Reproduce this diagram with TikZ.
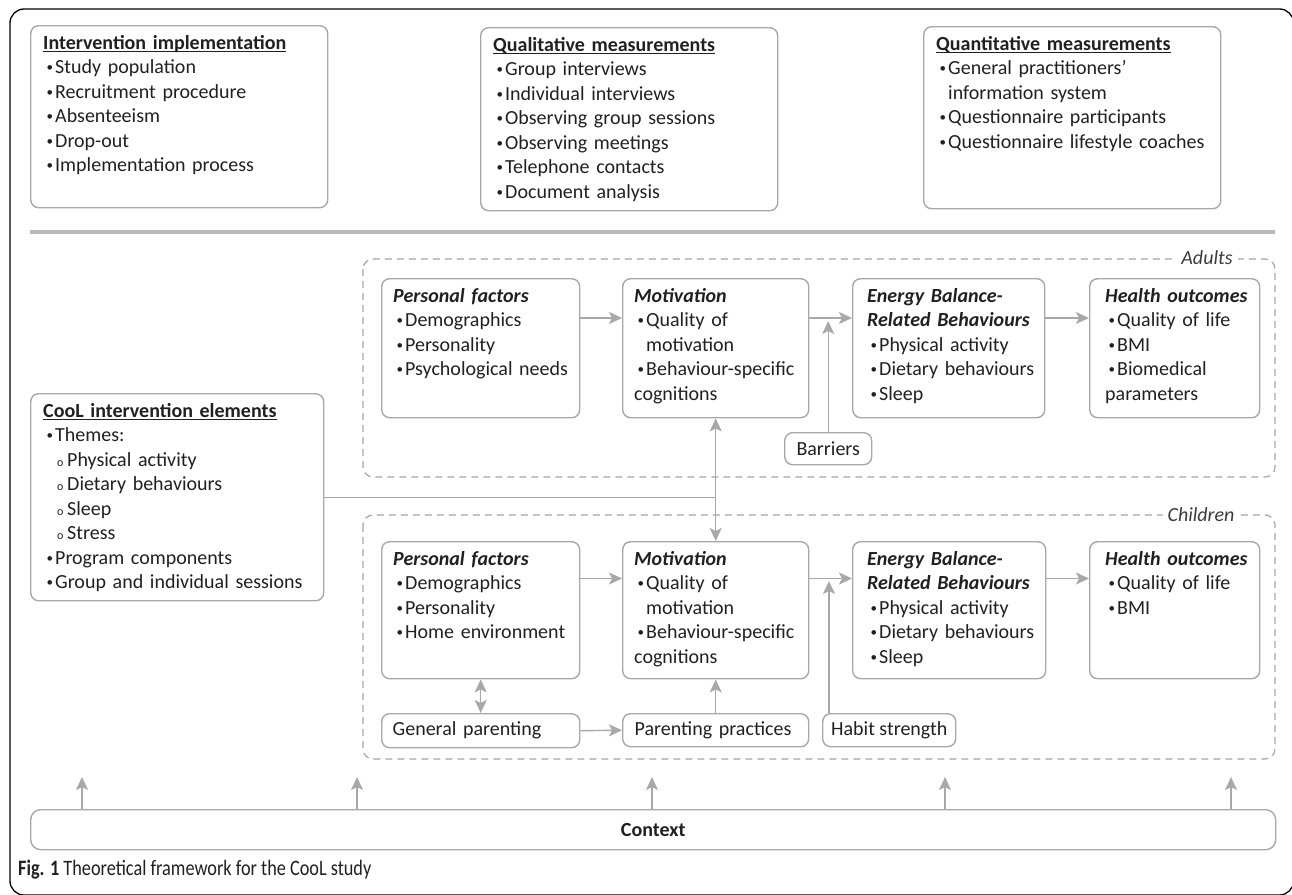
\documentclass[tikz,border=0pt]{standalone}
\usepackage{fontspec}
\setmainfont{Carlito}
\usetikzlibrary{arrows.meta}
\definecolor{txt}{RGB}{35,31,32}
\definecolor{bgray}{RGB}{168,168,168}
\definecolor{agray}{RGB}{168,168,168}
\definecolor{dgray}{RGB}{165,165,165}
\definecolor{sepgray}{RGB}{185,185,185}
\definecolor{lbl}{RGB}{60,60,60}
\newcommand\bul{\makebox[12pt][l]{\hspace{3.5pt}\raisebox{2.2pt}{\fontsize{13}{13}\selectfont\textbullet}}}
\newcommand\itm[1]{\par\hangindent=12pt\hangafter=1\noindent\bul#1}
\newcommand\sitm[1]{\par\noindent\hspace{14pt}\makebox[10pt][l]{\fontsize{12}{12}\selectfont o}#1}
\newcommand\ttl[1]{\noindent\strut\setbox0\hbox{\textbf{#1}}\rlap{\rule[-2.6pt]{\wd0}{1.2pt}}\box0}
\newcommand\hd[1]{\noindent\strut\textbf{\textit{#1}}}
\newcommand\mybox[7]{%
  \node[box, minimum width=#4pt, minimum height=#5pt] (#1) at (#2,#3) {};
  \node[txt] (#1-t) at ([xshift=#6pt,yshift=-7pt]#1.north west) {#7};}
\tikzset{
  box/.style={draw=bgray, line width=1.4pt, rounded corners=8pt, anchor=north west, inner sep=0pt},
  txt/.style={font=\fontsize{20}{24.5}\selectfont, text=txt, inner sep=0pt, anchor=north west, align=left, text width=300pt},
  small/.style={box, font=\fontsize{20}{24.5}\selectfont, text=txt},
  dbox/.style={draw=dgray, line width=1.2pt, dash pattern=on 7pt off 5pt, rounded corners=10pt},
  lab/.style={fill=white, inner xsep=5pt, inner ysep=1pt, font=\fontsize{20}{24}\selectfont\itshape, text=lbl},
  arr/.style={draw=agray, line width=1.4pt, ->},
  ln/.style={draw=agray, line width=1.4pt}
}
\begin{document}
\begin{tikzpicture}[x=1pt, y=-1pt, >={Stealth[length=13pt,width=12pt,inset=3pt]}]
\useasboundingbox (0,0) rectangle (1292,894);
\clip (0,0) rectangle (1292,894);
% outer frame
\draw[black, line width=1.3pt, rounded corners=14pt] (10,9) rectangle (1293.5,895);
% top boxes
\mybox{ii}{30}{25}{297}{182}{13}{\ttl{Intervention implementation}\itm{Study population}\itm{Recruitment procedure}\itm{Absenteeism}\itm{Drop-out}\itm{Implementation process}}
\mybox{ql}{480}{27}{297}{183}{13}{\ttl{Qualitative measurements}\itm{Group interviews}\itm{Individual interviews}\itm{Observing group sessions}\itm{Observing meetings}\itm{Telephone contacts}\itm{Document analysis}}
\mybox{qn}{923}{26}{297}{182}{13}{\ttl{Quantitative measurements}\itm{General practitioners’\newline information system}\itm{Questionnaire participants}\itm{Questionnaire lifestyle coaches}}
% separator
\draw[sepgray, line width=4pt] (30,232) -- (1275,232);
% dashed groups
\draw[dbox] (363,259) rectangle (1275,477);
\draw[dbox] (363,515) rectangle (1275,759);
\node[lab] (adl) at (1207,258) {Adults};
\node[lab] (chl) at (1201,515) {Children};
% adults
\mybox{apf}{381}{278}{198}{139}{12}{\hd{Personal factors}\itm{Demographics}\itm{Personality}\itm{Psychological needs}}
\mybox{amot}{622}{278}{186}{139}{12}{\hd{Motivation}\itm{Quality of\newline motivation}\itm{Behaviour-specific\newline cognitions}}
\mybox{aeb}{852}{278}{192}{139}{15}{\hd{Energy Balance-}\par\hd{Related Behaviours}\itm{Physical activity}\itm{Dietary behaviours}\itm{Sleep}}
\mybox{aho}{1089}{278}{170}{139}{16}{\hd{Health outcomes}\itm{Quality of life}\itm{BMI}\itm{Biomedical\newline parameters}}
\node[small, minimum width=87pt, minimum height=32pt] (bar) at (784,432) {Barriers};
% CooL
\mybox{cool}{30}{393}{293}{207}{13}{\ttl{CooL intervention elements}\itm{Themes:}\sitm{Physical activity}\sitm{Dietary behaviours}\sitm{Sleep}\sitm{Stress}\itm{Program components}\itm{Group and individual sessions}}
% children
\mybox{cpf}{381}{541}{198}{137}{12}{\hd{Personal factors}\itm{Demographics}\itm{Personality}\itm{Home environment}}
\mybox{cmot}{622}{541}{186}{137}{12}{\hd{Motivation}\itm{Quality of\newline motivation}\itm{Behaviour-specific\newline cognitions}}
\mybox{ceb}{852}{541}{193}{137}{15}{\hd{Energy Balance-}\par\hd{Related Behaviours}\itm{Physical activity}\itm{Dietary behaviours}\itm{Sleep}}
\mybox{cho}{1089}{541}{170}{137}{16}{\hd{Health outcomes}\itm{Quality of life}\itm{BMI}}
\node[small, minimum height=34pt, text width=176pt, inner xsep=11pt, align=left] (gp) at (381,713) {General parenting};
\node[small, minimum height=33pt, text width=162pt, inner xsep=12pt, align=left] (pp) at (622,713) {Parenting practices};
\node[small, minimum width=133pt, minimum height=33pt] (hab) at (822,713) {Habit strength};
% context
\node[box, rounded corners=10pt, minimum width=1245pt, minimum height=40pt, font=\fontsize{20}{24}\selectfont\bfseries, text=txt] (ctx) at (30,809) {Context};
\coordinate (c1) at (82,777);
\coordinate (c2) at (357,777);
\coordinate (c3) at (652,777);
\coordinate (c4) at (945,777);
\coordinate (c5) at (1231,777);
\foreach \c in {c1,c2,c3,c4,c5} \draw[arr] (ctx.north -| \c) -- (\c);
% adult arrows
\draw[arr] ([yshift=-40pt]apf.north east) -- ([yshift=-40pt]amot.north west);
\draw[arr] ([yshift=-40pt]amot.north east) -- ([yshift=-40pt]aeb.north west);
\draw[arr] ([yshift=-40pt]aeb.north east) -- ([yshift=-40pt]aho.north west);
\coordinate (bt) at (828,321);
\draw[arr] (bar.north) -- (bar.north |- bt);
% cool connection
\draw[arr, <->] (amot.south) -- (cmot.north);
\draw[ln] (cool.east) -- (cool.east -| amot.south);
% children arrows
\draw[arr] ([yshift=-37.5pt]cpf.north east) -- ([yshift=-37.5pt]cmot.north west);
\draw[arr] ([yshift=-37.5pt]cmot.north east) -- ([yshift=-37.5pt]ceb.north west);
\draw[arr] ([yshift=-37.5pt]ceb.north east) -- ([yshift=-37.5pt]cho.north west);
\draw[arr, <->] (cpf.south) -- (gp.north);
\draw[arr] (gp.east) -- (pp.west);
\draw[arr] (pp.north) -- (cmot.south);
\coordinate (ht) at (829,581);
\draw[arr] (ht |- hab.north) -- (ht);
% caption
\node[anchor=base west, inner sep=0pt, font=\fontsize{22}{26}\selectfont, text=txt] (cap) at (18,875) {\scalebox{0.83}[1]{\textbf{Fig. 1} Theoretical framework for the CooL study}};
\end{tikzpicture}
\end{document}
